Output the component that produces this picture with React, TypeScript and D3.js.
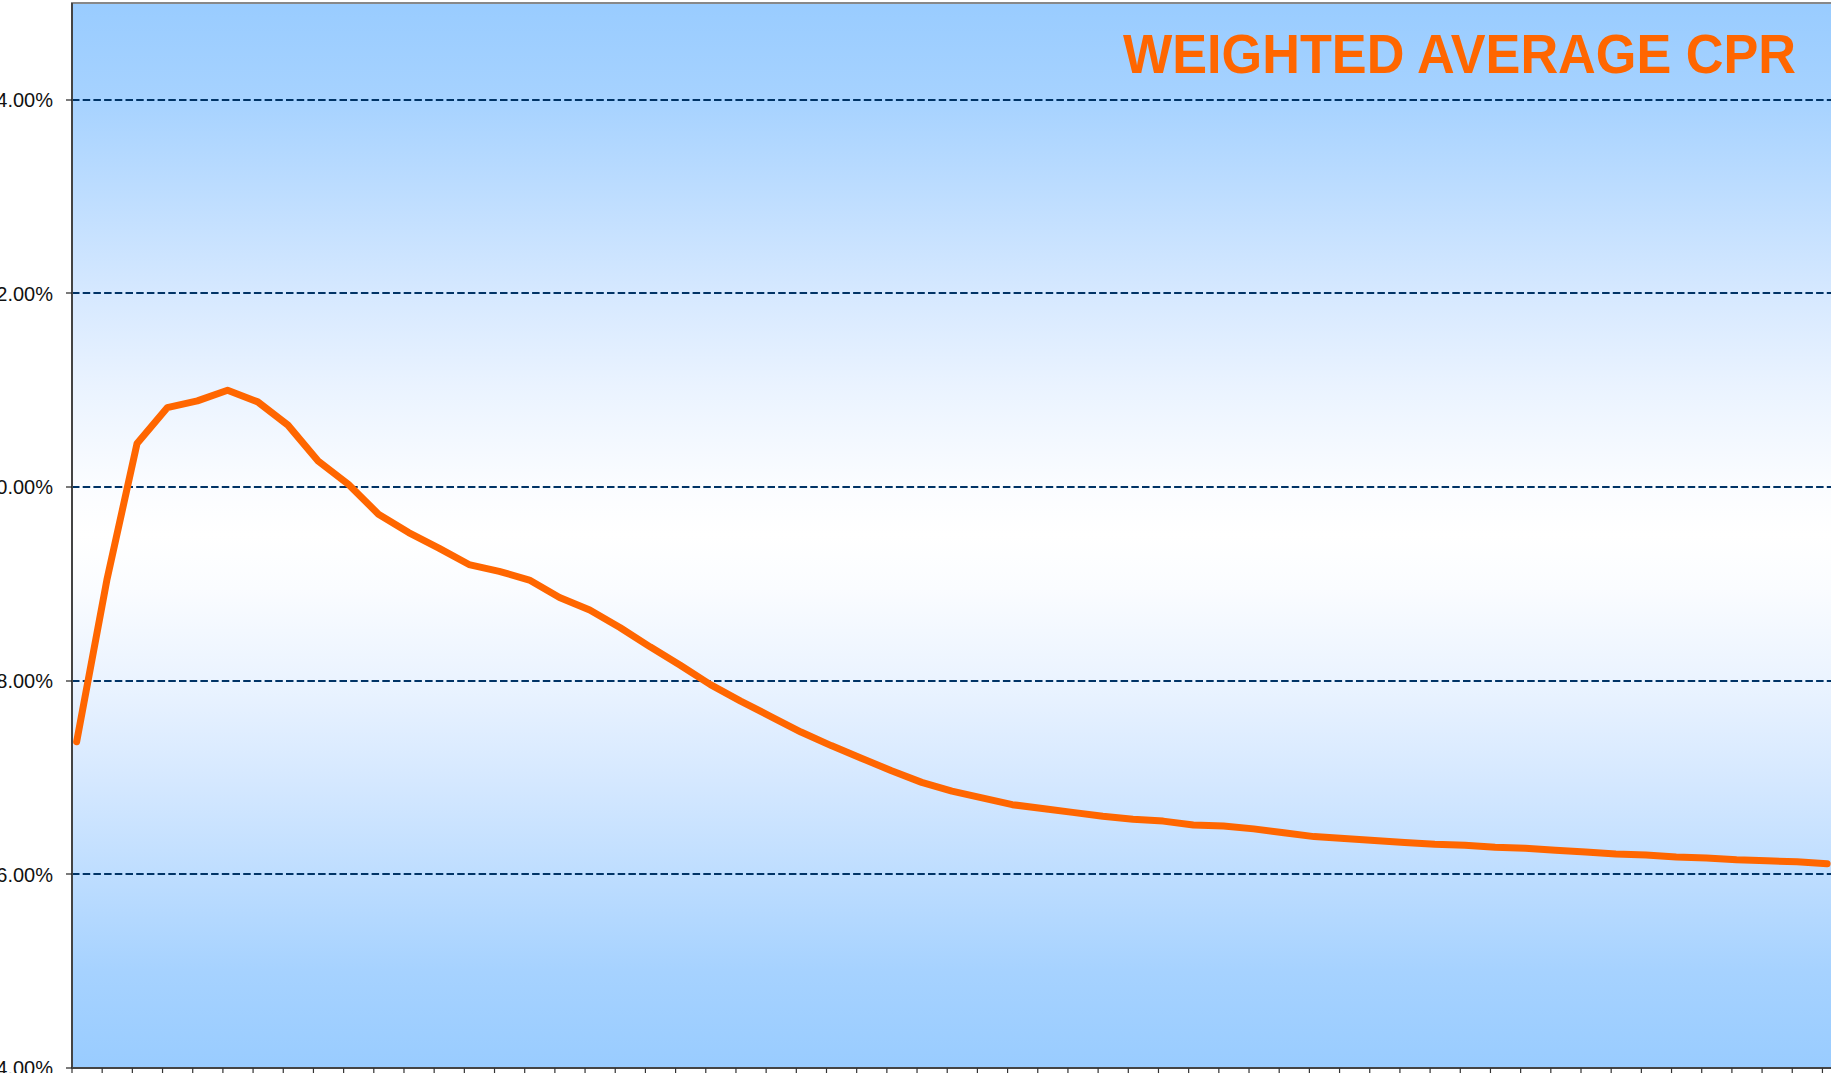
import React from "react";
import * as d3 from "d3";

// ---- data ----
const title = "WEIGHTED AVERAGE CPR";
const cprValues: number[] = [
  7.37, 9.04, 10.45, 10.82, 10.89, 11.0, 10.88, 10.64, 10.27, 10.03,
  9.72, 9.53, 9.37, 9.2, 9.13, 9.04, 8.86, 8.73, 8.55, 8.35,
  8.16, 7.96, 7.79, 7.63, 7.47, 7.33, 7.2, 7.07, 6.95, 6.86,
  6.79, 6.72, 6.68, 6.64, 6.6, 6.57, 6.55, 6.51, 6.5, 6.47,
  6.43, 6.39, 6.37, 6.35, 6.33, 6.31, 6.3, 6.28, 6.27, 6.25,
  6.23, 6.21, 6.2, 6.18, 6.17, 6.15, 6.14, 6.13, 6.11,
];
const yTickValues: number[] = [4, 6, 8, 10, 12, 14];
const yDomain: [number, number] = [4, 15];
const xTickCount = 60; // category tick marks along the bottom axis
const pointOffset = 0.155; // points sit slightly right of each tick

// ---- layout ----
const W = 1831;
const H = 1073;
const plotLeft = 72;
const plotTop = 3;
const plotBottom = 1068;
const tickStep = 30.18;

export default function App() {
  const x = d3
    .scaleLinear()
    .domain([0, 58])
    .range([plotLeft, plotLeft + 58 * tickStep]);
  const y = d3.scaleLinear().domain(yDomain).range([plotBottom, plotTop]);

  const line = d3
    .line<number>()
    .x((_, i) => x(i + pointOffset))
    .y((d) => y(d));

  const xTicks = d3.range(xTickCount);
  const fmt = (v: number) => d3.format(".2f")(v) + "%";

  const stops: [number, string][] = [
    [0, "#99CCFF"],
    [0.09, "#A6D2FF"],
    [0.27, "#D5E8FF"],
    [0.36, "#EAF3FF"],
    [0.45, "#FAFCFF"],
    [0.5, "#FFFFFF"],
    [0.55, "#FAFCFF"],
    [0.64, "#EAF3FF"],
    [0.73, "#D5E8FF"],
    [0.91, "#A6D2FF"],
    [1, "#99CCFF"],
  ];

  return (
    <svg
      width={W}
      height={H}
      style={{ position: "absolute", left: 0, top: 0, background: "#ffffff" }}
    >
      <defs>
        <linearGradient id="bg" x1="0" y1="0" x2="0" y2="1">
          {stops.map(([o, c]) => (
            <stop key={o} offset={o} stopColor={c} />
          ))}
        </linearGradient>
      </defs>
      <rect
        x={plotLeft}
        y={plotTop}
        width={W - plotLeft + 5}
        height={plotBottom - plotTop}
        fill="url(#bg)"
        stroke="#888888"
        strokeWidth={2}
      />
      {/* gridlines */}
      {yTickValues
        .filter((v) => v !== yDomain[0])
        .map((v) => (
          <line
            key={"g" + v}
            x1={plotLeft}
            x2={W}
            y1={Math.round(y(v))}
            y2={Math.round(y(v))}
            stroke="#003366"
            strokeWidth={2}
            strokeDasharray="7.5,3.2"
          />
        ))}
      {/* y axis */}
      <line x1={plotLeft} x2={plotLeft} y1={plotTop} y2={plotBottom} stroke="#444444" strokeWidth={2} />
      {yTickValues.map((v) => (
        <g key={"y" + v}>
          <line x1={plotLeft - 6} x2={plotLeft} y1={Math.round(y(v))} y2={Math.round(y(v))} stroke="#222222" strokeWidth={1.2} />
          <text
            x={53}
            y={y(v)}
            dy="0.36em"
            textAnchor="end"
            fontFamily="'Liberation Sans', Arial, sans-serif"
            fontSize={20}
            fill="#111111"
          >
            {fmt(v)}
          </text>
        </g>
      ))}
      {/* x axis */}
      <line x1={plotLeft} x2={W} y1={plotBottom} y2={plotBottom} stroke="#444444" strokeWidth={2} />
      {xTicks.map((t) => (
        <line
          key={"x" + t}
          x1={x(t)}
          x2={x(t)}
          y1={plotBottom}
          y2={plotBottom + 6}
          stroke="#333333"
          strokeWidth={1.2}
        />
      ))}
      {/* series */}
      <path
        d={line(cprValues) || ""}
        fill="none"
        stroke="#FF6600"
        strokeWidth={7}
        strokeLinejoin="round"
        strokeLinecap="round"
      />
      {/* title */}
      <text
        x={1123}
        y={72.5}
        fontFamily="'Liberation Sans', Arial, sans-serif"
        fontWeight="bold"
        fontSize={55}
        fill="#FF6600"
        textLength={673}
        lengthAdjust="spacingAndGlyphs"
      >
        {title}
      </text>
    </svg>
  );
}
